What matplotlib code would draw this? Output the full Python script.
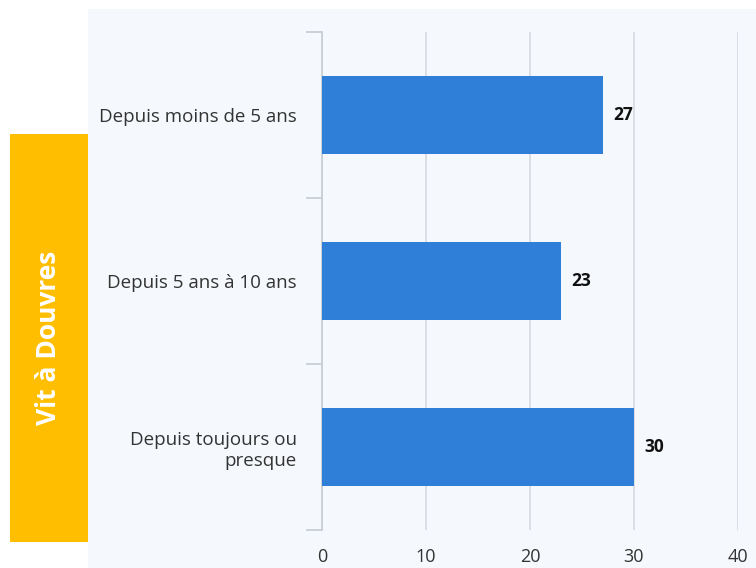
import matplotlib.pyplot as plt
from matplotlib.patches import Rectangle

plt.rcParams['font.family'] = ['Open Sans', 'DejaVu Sans']

# data
categories = ['Depuis moins de 5 ans', 'Depuis 5 ans à 10 ans', 'Depuis toujours ou\npresque']
values = [27, 23, 30]
xticks = [0, 10, 20, 30, 40]
side_label = 'Vit à Douvres'

W, H = 756, 568
fig = plt.figure(figsize=(W / 100, H / 100), dpi=100)

# light panel behind the chart
fig.patches.append(Rectangle((88 / W, 0), 1 - 88 / W, 1 - 9 / H, transform=fig.transFigure,
                             facecolor='#f5f8fc', edgecolor='none', zorder=-5))
# yellow side box
fig.patches.append(Rectangle((10 / W, 1 - 542 / H), 78 / W, 408 / H, transform=fig.transFigure,
                             facecolor='#ffbf00', edgecolor='none', zorder=-5))
fig.text(49 / W, 1 - 338 / H, side_label, rotation=90, ha='center', va='center',
         color='white', fontsize=19, fontweight='bold')

ax = fig.add_axes([322 / W, 1 - 530 / H, (738 - 322) / W, (530 - 32) / H])
ax.set_facecolor('none')
ax.set_zorder(1)

pos = list(range(len(categories)))
ax.barh(pos, values, height=0.47, color='#2f7ed8', zorder=3)
for p, v in zip(pos, values):
    ax.text(v + 1.0, p, str(v), va='center', ha='left', fontsize=12.5,
            fontweight='bold', color='#111111')

ax.set_xlim(0, 40)
ax.set_ylim(len(categories) - 0.5, -0.5)
ax.set_xticks(xticks)
ax.set_xticklabels([str(t) for t in xticks], fontsize=13, color='#333333')
ax.tick_params(axis='x', length=0, pad=13)
ax.grid(axis='x', color='#d9dde3', linewidth=1.3, zorder=0)

ax.set_yticks(pos)
ax.set_yticklabels(categories, fontsize=13.5, color='#333333')
ax.tick_params(axis='y', which='major', length=0, pad=18)
ax.set_yticks([p - 0.5 for p in pos] + [len(categories) - 0.5], minor=True)
ax.tick_params(axis='y', which='minor', length=11.5, color='#c9ced6', width=1.3)

for s in ['top', 'right', 'bottom']:
    ax.spines[s].set_visible(False)
ax.spines['left'].set_color('#c9ced6')
ax.spines['left'].set_linewidth(1.3)

fig.savefig('out.png', dpi=100)
